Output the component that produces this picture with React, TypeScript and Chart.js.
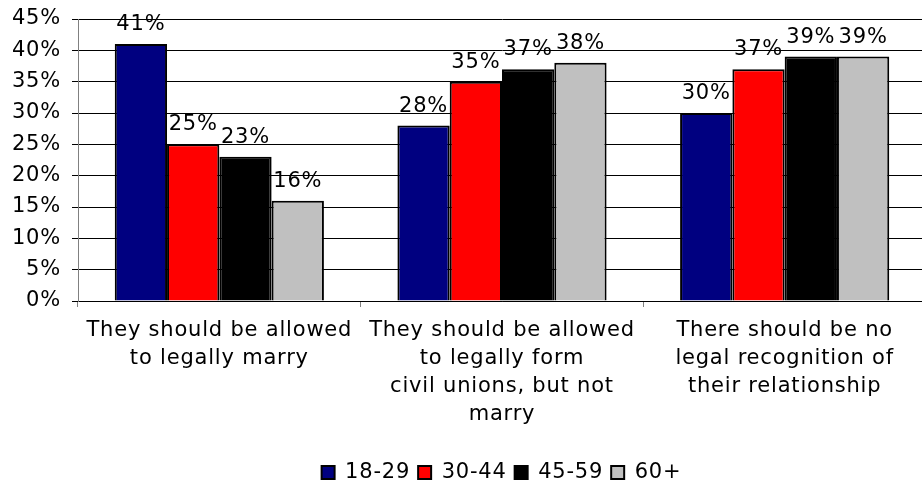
import React, { useEffect, useRef } from "react";
import { Chart, registerables } from "chart.js";

Chart.register(...registerables);

const categories: string[][] = [
  ["They should be allowed", "to legally marry"],
  ["They should be allowed", "to legally form", "civil unions, but not", "marry"],
  ["There should be no", "legal recognition of", "their relationship"],
];
const seriesNames = ["18-29", "30-44", "45-59", "60+"];
const v1829 = [41, 28, 30];
const v3044 = [25, 35, 37];
const v4559 = [23, 37, 39];
const v60 = [16, 38, 39];
const colors = ["#000080", "#FF0000", "#000000", "#C0C0C0"];
const yMax = 45;
const yStep = 5;

const FONT = "DejaVu Sans, Verdana, sans-serif";
const SPACING = "0.8px";

const spacingPlugin = {
  id: "spacing",
  beforeUpdate(chart: any) {
    chart.ctx.letterSpacing = SPACING;
  },
  beforeLayout(chart: any) {
    chart.ctx.letterSpacing = SPACING;
  },
  afterLayout(chart: any) {
    if (chart.legend) {
      chart.legend.left += 38.5;
      chart.legend.right += 38.5;
    }
  },
  beforeDraw(chart: any) {
    chart.ctx.letterSpacing = SPACING;
  },
};

const labelPlugin = {
  id: "barLabels",
  afterDatasetsDraw(chart: any) {
    const ctx = chart.ctx;
    ctx.save();
    ctx.letterSpacing = SPACING;
    ctx.font = `21px ${FONT}`;
    ctx.fillStyle = "#000";
    ctx.textAlign = "center";
    ctx.textBaseline = "alphabetic";
    chart.data.datasets.forEach((ds: any, i: number) => {
      const meta = chart.getDatasetMeta(i);
      meta.data.forEach((bar: any, j: number) => {
        ctx.fillText(`${ds.data[j]}%`, bar.x, bar.y - 14);
      });
    });
    ctx.restore();
  },
};

export default function App() {
  const ref = useRef<HTMLCanvasElement>(null);
  useEffect(() => {
    const all = [v1829, v3044, v4559, v60];
    const chart = new Chart(ref.current!, {
      type: "bar",
      data: {
        labels: categories,
        datasets: all.map((d, i) => ({
          label: seriesNames[i],
          data: d,
          backgroundColor: colors[i],
          borderColor: "#000",
          borderWidth: 2,
          barPercentage: 1,
          categoryPercentage: 0.74,
        })),
      },
      options: {
        responsive: false,
        animation: false,
        layout: { padding: { top: 19, right: 0, left: 0, bottom: 0 } },
        plugins: {
          tooltip: { enabled: false },
          legend: {
            position: "bottom",
            labels: {
              font: { family: FONT, size: 21 },
              color: "#000",
              boxWidth: 13,
              boxHeight: 13,
              padding: 8,
            },
          },
        },
        scales: {
          x: {
            grid: {
              drawOnChartArea: false,
              color: "#808080",
              tickLength: 6,
              offset: true,
            },
            border: { color: "#000" },
            ticks: {
              font: { family: FONT, size: 21, lineHeight: 1.3333 },
              color: "#000",
              padding: 10,
              maxRotation: 0,
              autoSkip: false,
            },
            afterFit(scale: any) {
              scale.height = 153;
            },
          },
          y: {
            min: 0,
            max: yMax,
            grid: { color: "#000", tickLength: 6 },
            border: { color: "#808080" },
            ticks: {
              stepSize: yStep,
              font: { family: FONT, size: 21, lineHeight: 0.5 },
              color: "#000",
              padding: 11,
              callback: (v: any) => `${v}%`,
            },
            afterFit(scale: any) {
              scale.width = 78;
            },
          },
        },
      },
      plugins: [spacingPlugin, labelPlugin],
    });
    return () => chart.destroy();
  }, []);
  return (
    <div
      style={{
        position: "absolute",
        left: 0,
        top: 0,
        width: 922,
        height: 483,
        overflow: "hidden",
      }}
    >
      <canvas ref={ref} width={926} height={493} />
    </div>
  );
}
